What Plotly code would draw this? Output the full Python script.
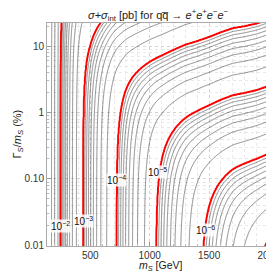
import numpy as np
import plotly.graph_objects as go

# ---- data ----
# narrow-width cross section: log10(sigma [pb]) versus m_S, read along the bottom edge (Gamma/m = 0.01 %)
narrow_mass = [170, 200, 229, 250, 441, 723, 1055, 1440, 1975, 2000]
narrow_log_sigma = [-1.38, -1.52, -1.70, -2.00, -3.00, -4.00, -5.00, -6.00, -7.23, -7.29]

# width-driven (interference) part: log10(sigma [pb]) at Gamma/m = 1 %, growing linearly with the width
int_mass = [170, 300, 400, 450, 500, 600, 700, 800, 900, 1000, 1100, 1200, 1300,
            1400, 1500, 1600, 1700, 1800, 1900, 2000]
int_log_sigma = [-4.30, -4.35, -4.40, -4.42, -4.42, -4.52, -4.64, -4.72, -4.77, -4.83,
                 -4.89, -4.96, -5.03, -5.08, -5.14, -5.21, -5.27, -5.30, -5.34, -5.40]
width_power = 1.0

mass_min, mass_max = 170, 2000
logw_min, logw_max = -2.02, 1.37

x_tick_vals = [500, 1000, 1500, 2000]
y_tick_vals = [-2, -1, 0, 1]
y_tick_text = ["0.01", "0.10", "1", "10"]

label_text = ["10<sup>\u22122</sup>", "10<sup>\u22123</sup>", "10<sup>\u22124</sup>",
              "10<sup>\u22125</sup>", "10<sup>\u22126</sup>"]
label_mass = [248, 440, 722, 1068, 1470]
label_logw = [-1.71, -1.63, -1.02, -0.90, -1.77]

# ---- build the field ----
m = np.linspace(mass_min, mass_max, 400)
L = np.linspace(logw_min, logw_max, 340)
A = np.interp(m, narrow_mass, narrow_log_sigma)
B = np.interp(m, int_mass, int_log_sigma)
sigma = 10.0 ** A[None, :] + 10.0 ** B[None, :] * (10.0 ** L[:, None]) ** width_power
logs = np.log10(sigma)
n = np.floor(logs)
mant = 10.0 ** (logs - n)
idx = 9 * n + (mant - 1.0)   # levels k*10^n map onto integers

fig = go.Figure()
fig.add_trace(go.Contour(
    x=m, y=L, z=idx, autocontour=False,
    contours=dict(start=-81, end=-9, size=1, coloring="none"),
    line=dict(color="rgba(40,40,40,0.75)", width=0.7, smoothing=0),
    showscale=False, hoverinfo="skip"))
fig.add_trace(go.Contour(
    x=m, y=L, z=idx, autocontour=False,
    contours=dict(start=-81, end=-9, size=9, coloring="none"),
    line=dict(color="#ff0000", width=1.9, smoothing=0),
    showscale=False, hoverinfo="skip"))

ann = []
for t, xm, yl in zip(label_text, label_mass, label_logw):
    ann.append(dict(x=xm, y=yl, xref="x", yref="y", text=t, showarrow=False,
                    font=dict(size=10, color="#111", family="Liberation Sans"),
                    bgcolor="rgba(255,255,255,0.85)", borderpad=0))

ann.append(dict(x=0.5, y=1, xref="paper", yref="paper", xanchor="center", yanchor="bottom",
                xshift=-2, yshift=-2,
                text="<i>\u03c3</i>+<i>\u03c3</i><sub>int</sub> [pb] for qq\u0305 \u2192 "
                     "<i>e</i><sup>+</sup><i>e</i><sup>+</sup><i>e</i><sup>\u2212</sup><i>e</i><sup>\u2212</sup>",
                showarrow=False, font=dict(size=11, color="#222", family="Liberation Sans")))
ann.append(dict(x=0.5, y=0, xref="paper", yref="paper", xanchor="center", yanchor="middle",
                yshift=-20, text="<i>m<sub>S</sub></i> [GeV]", showarrow=False, borderpad=0,
                font=dict(size=10.5, color="#222", family="Liberation Sans")))
ann.append(dict(x=0, y=0.5, xref="paper", yref="paper", xanchor="center", yanchor="middle",
                xshift=-30, textangle=-90,
                text="\u0393<sub><i>S</i></sub>/<i>m<sub>S</sub></i> (%)", showarrow=False,
                font=dict(size=11, color="#222", family="Liberation Sans")))

minor_y = [d + np.log10(k) for d in range(-2, 2) for k in range(2, 10)]

fig.update_layout(
    width=274, height=271,
    margin=dict(l=39, r=8, t=15, b=33),
    paper_bgcolor="white", plot_bgcolor="white",
    showlegend=False,
    annotations=ann,
    font=dict(family="Liberation Sans", size=10, color="#333"),
    xaxis=dict(range=[136, 2046], tickmode="array", tickvals=x_tick_vals,
               automargin=False,
               ticks="inside", ticklen=4, tickcolor="#999", tickwidth=0.8,
               showline=True, mirror=True, linecolor="#aaa", linewidth=1,
               showgrid=True, gridcolor="#d4d4d4", griddash="dot", gridwidth=0.8,
               zeroline=False, tickfont=dict(size=10, color="#333"),
               minor=dict(dtick=100, tick0=0, showgrid=True, gridcolor="#e8e8e8",
                          griddash="dot", ticks="inside", ticklen=2, tickcolor="#bbb")),
    yaxis=dict(range=[-2.01, 1.35], tickmode="array", tickvals=y_tick_vals, ticktext=y_tick_text,
               automargin=False,
               ticks="inside", ticklen=4, tickcolor="#999", tickwidth=0.8,
               showline=True, mirror=True, linecolor="#aaa", linewidth=1,
               showgrid=True, gridcolor="#d4d4d4", griddash="dot", gridwidth=0.8,
               zeroline=False, tickfont=dict(size=10, color="#333"),
               minor=dict(tickmode="array", tickvals=minor_y, showgrid=True, gridcolor="#e8e8e8",
                          griddash="dot", ticks="inside", ticklen=2, tickcolor="#bbb")),
)

fig.write_html("out.html")
